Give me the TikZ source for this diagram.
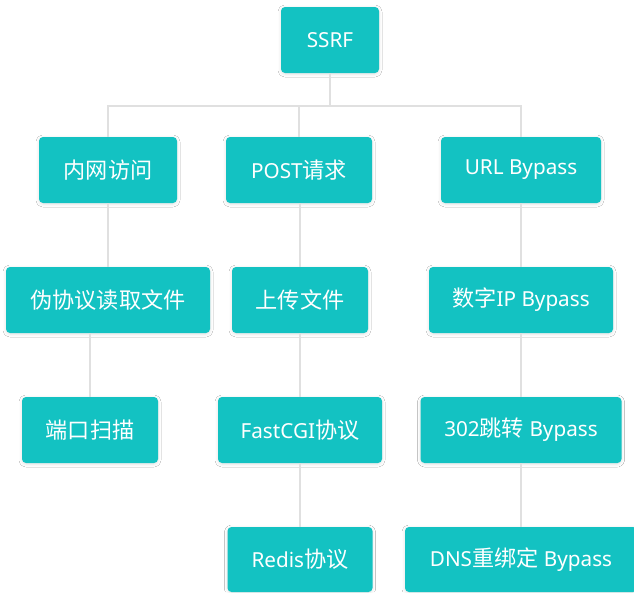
\documentclass[tikz,border=0pt]{standalone}
\usepackage{fontspec}
\setmainfont{Noto Sans}
\newfontfamily\cjk[Scale=1.07]{Noto Sans CJK SC}
\usetikzlibrary{shadows.blur}
\definecolor{teal}{HTML}{13C2C2}
\definecolor{linegray}{HTML}{E0E0E0}
\tikzset{
  box/.style={fill=teal, text=white, rounded corners=4pt, minimum height=66pt,
    inner sep=0pt, font=\fontsize{20.7}{24}\selectfont,
    blur shadow={shadow xshift=0pt, shadow yshift=-1pt, shadow blur radius=3pt, shadow opacity=12}},
  conn/.style={draw=linegray, line width=1.6pt}
}
\begin{document}
\begin{tikzpicture}[x=1pt, y=-1pt]
\useasboundingbox (0,0) rectangle (634,592);
\fill[white] (0,0) rectangle (634,592);
\node[box, minimum width=98pt] (ssrf) at (330,40) {SSRF};
\node[box, minimum width=138pt] (n1) at (108,170) {\cjk 内网访问};
\node[box, minimum width=146pt] (n2) at (299,170) {POST{\cjk 请求}};
\node[box, minimum width=160pt] (n3) at (521,170) {URL Bypass};
\node[box, minimum width=204pt] (a1) at (108,300) {\cjk 伪协议读取文件};
\node[box, minimum width=136pt] (a2) at (300,300) {\cjk 上传文件};
\node[box, minimum width=184pt] (a3) at (521,300) {{\cjk 数字}IP Bypass};
\node[box, minimum width=136pt] (b1) at (90,430) {\cjk 端口扫描};
\node[box, minimum width=164pt] (b2) at (300,430) {FastCGI{\cjk 协议}};
\node[box, minimum width=201pt] (b3) at (521,430) {302{\cjk 跳转} Bypass};
\node[box, minimum width=145pt, minimum height=65pt] (c2) at (300,559.5) {Redis{\cjk 协议}};
\node[box, minimum width=232pt, minimum height=65pt] (c3) at (521,559.5) {DNS{\cjk 重绑定} Bypass};
\draw[conn] (ssrf.south) -- ++(0,32.5) coordinate (hub);
\draw[conn] (n1.north) |- (hub) -| (n3.north);
\draw[conn] (n2.north) -- (n2.north |- hub);
\draw[conn] (a1.north) -- (a1.north |- n1.south);
\draw[conn] (a2.north) -- (a2.north |- n2.south);
\draw[conn] (a3.north) -- (a3.north |- n3.south);
\draw[conn] (b1.north) -- (b1.north |- a1.south);
\draw[conn] (b2.north) -- (b2.north |- a2.south);
\draw[conn] (b3.north) -- (b3.north |- a3.south);
\draw[conn] (c2.north) -- (c2.north |- b2.south);
\draw[conn] (c3.north) -- (c3.north |- b3.south);
\end{tikzpicture}
\end{document}
